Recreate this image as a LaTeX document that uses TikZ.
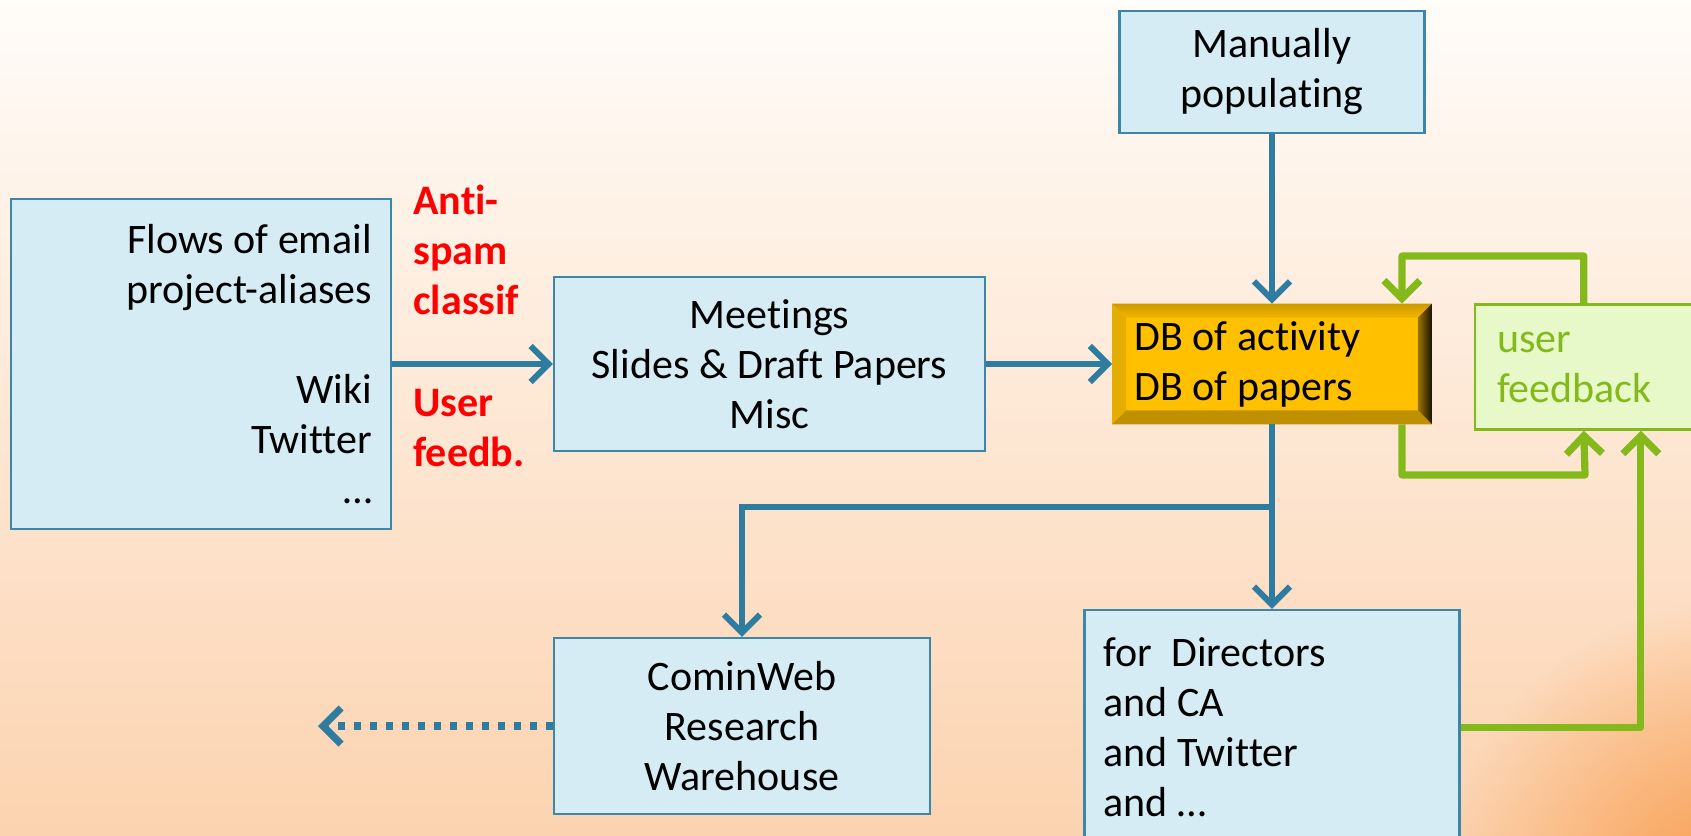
\documentclass[tikz,border=0pt]{standalone}
\usepackage{fontspec}
\setmainfont{Carlito}[Ligatures=NoCommon]
\usetikzlibrary{shapes, arrows.meta, positioning, backgrounds, fadings}

\definecolor{boxblue}{HTML}{D5ECF5}
\definecolor{edgeblue}{HTML}{3C86AA}
\definecolor{flowblue}{HTML}{2E7DA1}
\definecolor{fbgreen}{HTML}{84B91C}
\definecolor{fbfill}{HTML}{E8F9C9}
\definecolor{gold}{HTML}{FFC000}
\definecolor{peach}{HTML}{FCD3B0}
\definecolor{cream}{HTML}{FFFCF9}
\definecolor{glow}{HTML}{F89A48}

\tikzfading[name=glowfade, inner color=transparent!0, outer color=transparent!100]

\tikzstyle{box} = [rectangle, draw=edgeblue, line width=1.2pt, fill=boxblue, text centered, inner xsep=9.5pt]
\tikzstyle{flow} = [draw=flowblue, line width=3pt, -{Straight Barb[length=9pt, width=18pt]}]
\tikzstyle{fbflow} = [draw=fbgreen, line width=3.6pt, line join=round, -{Straight Barb[length=9pt, width=18pt]}]

\begin{document}
\begin{tikzpicture}[x=0.5pt, y=-0.5pt, font=\fontsize{21}{25}\selectfont]

    % Define styles
    \tikzstyle{dbbox} = [rectangle, fill=gold, inner xsep=11pt, text=black]
    \tikzstyle{fbbox} = [rectangle, draw=fbgreen, line width=1.2pt, fill=fbfill, text=fbgreen, inner xsep=11pt]
    \tikzstyle{redlabel} = [text=red, font=\fontsize{21}{25}\selectfont\bfseries, align=flush left, inner sep=0pt, anchor=west]

    % Background
    \clip (0,0) rectangle (1691,835);
    \shade[top color=cream, bottom color=peach] (0,0) rectangle (1691,835);
    \fill[glow, path fading=glowfade] (1740,900) circle (300);

    % Sources
    \node[box, minimum width=190pt, minimum height=165pt, text width=171pt, align=flush right] (flows) at (201,364)
        {Flows of email\\project-aliases\\[25pt]Wiki\\Twitter\\…};
    \node[box, minimum width=215.5pt, minimum height=87pt, align=center] (meetings) at (769.5,364)
        {Meetings\\Slides \& Draft Papers\\Misc};
    \node[box, minimum width=152.5pt, minimum height=61pt, align=center] (manual) at (1272,72)
        {Manually\\populating};

    % Red labels
    \node[redlabel] (antispam) at (413,250) {Anti-\\spam\\classif};
    \node[redlabel] (userfb) at (413,428) {User\\feedb.};

    % Database
    \node[dbbox, minimum width=159.5pt, minimum height=60pt] (db) at (1272,364) {};
    \shade[top color=gold!80!black, bottom color=gold!95!black] (db.north west) -- (db.north east)
        -- ([shift={(-7pt,-7pt)}]db.north east) -- ([shift={(7pt,-7pt)}]db.north west) -- cycle;
    \fill[gold!90!black] (db.north west) -- ([shift={(7pt,-7pt)}]db.north west)
        -- ([shift={(7pt,7pt)}]db.south west) -- (db.south west) -- cycle;
    \shade[left color=gold!60!black, right color=black!90!gold] (db.north east) -- (db.south east)
        -- ([shift={(-7pt,7pt)}]db.south east) -- ([shift={(-7pt,-7pt)}]db.north east) -- cycle;
    \fill[gold!75!black] (db.south west) -- ([shift={(7pt,7pt)}]db.south west)
        -- ([shift={(-7pt,7pt)}]db.south east) -- (db.south east) -- cycle;
    \node[text width=137.5pt, align=flush left, inner sep=0pt] (dbtext) at (db.center) {DB of activity\\DB of papers};

    % Feedback
    \node[fbbox, minimum width=122.5pt, minimum height=62.5pt, text width=100.5pt, align=flush left] (feedback) at (1597.5,367)
        {user\\feedback};

    % Outputs
    \node[box, minimum width=188pt, minimum height=88pt, align=center] (cominweb) at (742,726)
        {CominWeb\\Research\\Warehouse};
    \node[box, minimum width=187.5pt, minimum height=117.5pt, text width=168.5pt, align=flush left] (directors) at (1272,727.5)
        {for\ \ Directors\\and CA\\and Twitter\\and …};

    % Flows
    \coordinate (split) at (1272,507);
    \coordinate (export) at (318,726);
    \draw[flow] (flows.east) -- (meetings.west);
    \draw[flow] (meetings.east) -- (db.west);
    \draw[flow] (manual.south) -- (db.north);
    \draw[flow] (db.south) -- (split) -| (cominweb.north);
    \draw[flow] (split) -- (directors.north);
    \draw[flow, line width=3.6pt, dash pattern=on 3.6pt off 4.4pt] (cominweb.west) -- (export);

    % Feedback loops
    \coordinate (loopTop) at (1402,256);
    \coordinate (loopBot) at (1585,475);
    \draw[fbflow] ([xshift=55pt]feedback.north west) |- (loopTop) -- ([xshift=-15pt]db.north east);
    \draw[fbflow] ([xshift=-15pt]db.south east) |- (loopBot) -- ([xshift=55pt]feedback.south west);
    \draw[fbflow] (directors.east) -| ([xshift=83.5pt]feedback.south west);

\end{tikzpicture}
\end{document}
